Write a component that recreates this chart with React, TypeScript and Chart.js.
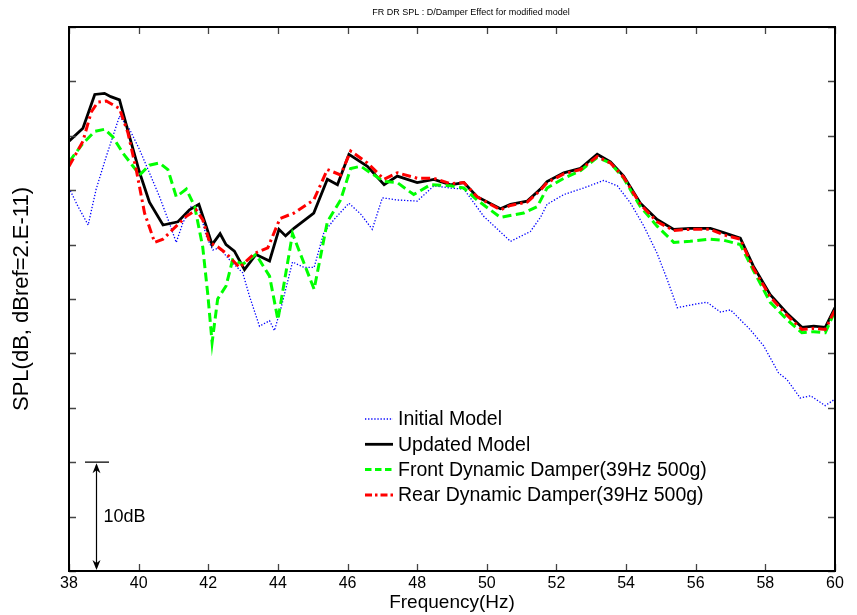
import React, { useEffect, useRef } from "react";
import { Chart, registerables } from "chart.js";

Chart.register(...registerables);

const TITLE = "FR DR SPL : D/Damper Effect for modified model";
const X_TITLE = "Frequency(Hz)";
const Y_TITLE = "SPL(dB, dBref=2.E-11)";

const X_MIN = 38;
const X_MAX = 60;
const X_STEP = 2;
const Y_MIN = 0;
const Y_MAX = 50;
const Y_STEP = 5;

// scale bracket (dB)
const BRACKET_FROM = 0;
const BRACKET_TO = 10;
const BRACKET_LABEL = "10dB";

const LABELS = [
  "Initial Model",
  "Updated Model",
  "Front Dynamic Damper(39Hz 500g)",
  "Rear Dynamic Damper(39Hz 500g)",
];

const fInit = [38.0,38.26,38.55,38.78,39.07,39.45,39.74,40.03,40.31,40.6,40.88,41.08,41.27,41.51,41.75,41.94,42.13,42.32,42.61,42.99,43.18,43.47,43.76,43.9,44.1,44.42,44.75,45.04,45.32,45.61,46.04,46.38,46.71,47.0,47.43,48.0,48.48,48.96,49.34,49.91,50.68,51.25,51.54,51.73,52.21,52.78,53.36,53.75,54.13,54.51,54.89,55.18,55.47,55.94,56.32,56.71,57.0,57.56,57.95,58.38,58.62,59.0,59.3,59.72,60.0];
const vInit = [35.2,33.5,31.8,35.1,38.1,41.8,40.6,38.7,36.6,34.4,32.0,30.2,32.0,33.5,33.2,30.8,29.5,29.7,28.6,27.4,25.3,22.5,23.0,22.1,24.3,28.4,27.9,27.9,31.1,32.3,33.8,32.8,31.4,34.3,34.1,34.0,35.4,35.2,35.1,32.6,30.3,31.2,32.5,33.7,34.6,35.2,35.9,35.4,33.8,31.7,29.2,26.8,24.2,24.5,24.7,23.8,24.0,22.2,20.7,18.2,17.6,15.9,16.1,15.2,15.8];

const fUpd = [38.0,38.4,38.74,39.02,39.2,39.45,39.74,40.03,40.31,40.7,41.13,41.46,41.73,41.94,42.11,42.34,42.51,42.75,43.04,43.37,43.76,44.03,44.22,44.46,45.03,45.42,45.71,46.04,46.57,47.05,47.43,48.0,48.48,48.96,49.34,49.72,50.39,50.68,51.16,51.54,51.73,52.21,52.69,53.17,53.55,53.93,54.41,54.89,55.37,55.84,56.42,56.8,57.28,57.66,58.14,58.62,59.05,59.39,59.72,60.0];
const vUpd = [39.5,40.7,43.8,43.9,43.6,43.3,39.9,36.6,33.9,31.8,32.1,33.2,33.7,31.7,30.0,31.0,30.0,29.4,27.7,29.1,28.5,31.4,30.8,31.5,32.9,36.0,35.5,38.3,37.2,35.5,36.3,35.7,36.0,35.5,35.7,34.4,33.3,33.7,34.0,35.1,35.8,36.6,37.0,38.3,37.6,36.3,33.8,32.3,31.4,31.5,31.5,31.1,30.6,28.0,25.4,23.7,22.4,22.5,22.4,24.2];

const fFront = [38.0,38.4,38.74,39.02,39.26,39.55,39.84,40.03,40.31,40.6,40.84,41.08,41.37,41.61,41.84,41.99,42.11,42.27,42.51,42.7,42.99,43.37,43.76,44.0,44.42,45.04,45.42,45.8,46.09,46.38,46.66,47.05,47.43,47.9,48.38,48.96,49.34,49.72,50.39,51.06,51.45,51.73,52.21,52.69,53.17,53.55,53.93,54.41,54.89,55.37,55.84,56.42,56.8,57.28,57.66,58.14,58.62,59.05,59.39,59.72,60.0];
const vFront = [37.6,39.3,40.4,40.6,39.9,38.4,37.2,36.4,37.3,37.5,36.9,34.4,35.1,33.5,29.8,25.3,21.0,25.0,26.2,28.6,28.2,29.1,27.1,23.1,31.0,25.9,32.1,34.1,37.0,37.2,36.6,35.8,35.7,34.6,35.5,35.4,35.2,34.1,32.5,32.9,33.5,35.2,36.1,36.8,38.0,37.5,36.1,33.5,31.7,30.2,30.3,30.5,30.4,30.0,27.6,24.7,23.1,21.9,22.0,21.9,23.9];

const fRear = [38.0,38.4,38.64,38.83,39.07,39.45,39.69,39.93,40.17,40.46,40.7,41.08,41.37,41.65,41.84,42.04,42.27,42.51,42.9,43.33,43.71,44.06,44.46,45.03,45.42,45.8,46.09,46.57,47.05,47.43,48.0,48.48,48.96,49.34,49.72,50.39,50.68,51.16,51.54,51.73,52.21,52.69,53.17,53.55,53.93,54.41,54.89,55.37,55.84,56.42,56.8,57.28,57.66,58.14,58.62,59.05,59.39,59.72,60.0];
const vRear = [37.2,39.5,42.2,43.1,43.2,42.5,40.3,36.9,32.9,30.2,30.5,31.7,32.6,33.2,32.3,30.2,29.8,29.2,27.9,29.2,29.7,32.4,32.9,34.1,36.9,36.4,38.6,37.5,36.0,36.6,36.1,36.1,35.6,35.7,34.4,33.2,33.6,33.9,35.0,35.7,36.5,36.9,38.1,37.5,36.2,33.7,32.1,31.3,31.4,31.4,30.9,30.5,27.8,25.2,23.5,22.2,22.3,22.2,24.0];

const FONT = "'Liberation Sans', Arial, Helvetica, sans-serif";

const toPts = (xs: number[], ys: number[]) => xs.map((x, i) => ({ x, y: ys[i] }));

const framePlugin = {
  id: "matlabFrame",
  afterDatasetsDraw(chart: any) {
    const { ctx, chartArea: a, scales } = chart;
    const xs = scales.x;
    const ys = scales.y;
    ctx.save();
    // ticks
    ctx.strokeStyle = "#444";
    ctx.lineWidth = 1.3;
    ctx.beginPath();
    for (let v = X_MIN; v <= X_MAX + 1e-9; v += X_STEP) {
      const px = Math.round(xs.getPixelForValue(v)) + 0.5;
      ctx.moveTo(px, a.top);
      ctx.lineTo(px, a.top + 7);
      ctx.moveTo(px, a.bottom);
      ctx.lineTo(px, a.bottom - 7);
    }
    for (let v = Y_MIN; v <= Y_MAX + 1e-9; v += Y_STEP) {
      const py = Math.round(ys.getPixelForValue(v)) + 0.5;
      ctx.moveTo(a.left, py);
      ctx.lineTo(a.left + 7, py);
      ctx.moveTo(a.right, py);
      ctx.lineTo(a.right - 7, py);
    }
    ctx.stroke();
    // frame
    ctx.strokeStyle = "#000";
    ctx.lineWidth = 2;
    ctx.strokeRect(a.left, a.top, a.right - a.left, a.bottom - a.top);

    // 10 dB bracket
    const yb = ys.getPixelForValue(BRACKET_FROM);
    const yt = ys.getPixelForValue(BRACKET_TO);
    const xa = a.left + 27.5;
    ctx.lineWidth = 1.2;
    ctx.strokeStyle = "#000";
    ctx.beginPath();
    ctx.moveTo(a.left + 16, yt);
    ctx.lineTo(a.left + 40, yt);
    ctx.moveTo(xa, yt + 3);
    ctx.lineTo(xa, yb - 3);
    ctx.stroke();
    ctx.fillStyle = "#000";
    ctx.beginPath();
    ctx.moveTo(xa, yt + 1);
    ctx.lineTo(xa - 4, yt + 11);
    ctx.lineTo(xa, yt + 8);
    ctx.lineTo(xa + 4, yt + 11);
    ctx.closePath();
    ctx.fill();
    ctx.beginPath();
    ctx.moveTo(xa, yb - 1);
    ctx.lineTo(xa - 4, yb - 11);
    ctx.lineTo(xa, yb - 8);
    ctx.lineTo(xa + 4, yb - 11);
    ctx.closePath();
    ctx.fill();
    ctx.font = `18px ${FONT}`;
    ctx.textAlign = "left";
    ctx.textBaseline = "middle";
    ctx.fillText(BRACKET_LABEL, xa + 7, (yt + yb) / 2);

    // legend
    const lx = 365;
    const tx = 398;
    const ly0 = 419;
    const step = 25.3;
    chart.data.datasets.forEach((ds: any, i: number) => {
      const y = ly0 + i * step;
      ctx.save();
      ctx.strokeStyle = ds.borderColor;
      ctx.lineWidth = ds.borderWidth;
      ctx.setLineDash(ds.legendDash || ds.borderDash || []);
      ctx.beginPath();
      ctx.moveTo(lx, y);
      ctx.lineTo(lx + 28, y);
      ctx.stroke();
      ctx.restore();
      ctx.fillStyle = "#000";
      ctx.font = `19.5px ${FONT}`;
      ctx.textAlign = "left";
      ctx.textBaseline = "middle";
      ctx.fillText(ds.label, tx, y + 1);
    });

    // title
    ctx.font = `9px ${FONT}`;
    ctx.textAlign = "center";
    ctx.textBaseline = "middle";
    ctx.fillStyle = "#000";
    ctx.fillText(TITLE, (a.left + a.right) / 2 + 19, 13);
    ctx.restore();
  },
};

export default function App() {
  const ref = useRef<HTMLCanvasElement | null>(null);
  useEffect(() => {
    if (!ref.current) return;
    const chart = new Chart(ref.current, {
      type: "line",
      data: {
        datasets: [
          {
            label: LABELS[0],
            data: toPts(fInit, vInit),
            borderColor: "#0000ff",
            borderWidth: 1.3,
            borderDash: [1.3, 1.8],
            legendDash: [1.3, 1.8],
            pointRadius: 0,
            tension: 0,
            fill: false,
            order: 4,
          } as any,
          {
            label: LABELS[1],
            data: toPts(fUpd, vUpd),
            borderColor: "#000000",
            borderWidth: 2.8,
            pointRadius: 0,
            tension: 0,
            fill: false,
            order: 3,
          },
          {
            label: LABELS[2],
            data: toPts(fFront, vFront),
            borderColor: "#00ff00",
            borderWidth: 3,
            borderDash: [9, 4.5],
            legendDash: [6.5, 3.5],
            pointRadius: 0,
            tension: 0,
            fill: false,
            order: 2,
          } as any,
          {
            label: LABELS[3],
            data: toPts(fRear, vRear),
            borderColor: "#ff0000",
            borderWidth: 3,
            borderDash: [9, 4, 2.5, 4],
            legendDash: [7, 3, 2.5, 3],
            pointRadius: 0,
            tension: 0,
            fill: false,
            order: 1,
          } as any,
        ],
      },
      options: {
        animation: false,
        responsive: false,
        devicePixelRatio: 1,
        layout: { padding: { top: 27, right: 22, left: 0, bottom: 0 } },
        plugins: {
          legend: { display: false },
          title: { display: false },
          tooltip: { enabled: false },
        },
        scales: {
          x: {
            type: "linear",
            min: X_MIN,
            max: X_MAX,
            grid: { display: false, drawTicks: false },
            border: { display: false },
            ticks: {
              stepSize: X_STEP,
              color: "#000",
              padding: 3,
              maxRotation: 0,
              autoSkip: false,
              font: { family: FONT, size: 16 },
            },
            title: {
              display: true,
              text: X_TITLE,
              color: "#000",
              font: { family: FONT, size: 19 },
              padding: { top: 0, bottom: 1 },
            },
            afterFit: (s: any) => {
              s.height = 44;
            },
          },
          y: {
            type: "linear",
            min: Y_MIN,
            max: Y_MAX,
            grid: { display: false, drawTicks: false },
            border: { display: false },
            ticks: { display: false, stepSize: Y_STEP },
            title: {
              display: true,
              text: Y_TITLE,
              color: "#000",
              font: { family: FONT, size: 22 },
              padding: { top: 9, bottom: 0 },
            },
            afterFit: (s: any) => {
              s.width = 69;
            },
          },
        },
      },
      plugins: [framePlugin],
    });
    return () => chart.destroy();
  }, []);
  return (
    <div style={{ position: "fixed", left: 0, top: 0, width: 857, height: 615, background: "#fff" }}>
      <canvas ref={ref} width={857} height={615} style={{ display: "block" }} />
    </div>
  );
}
